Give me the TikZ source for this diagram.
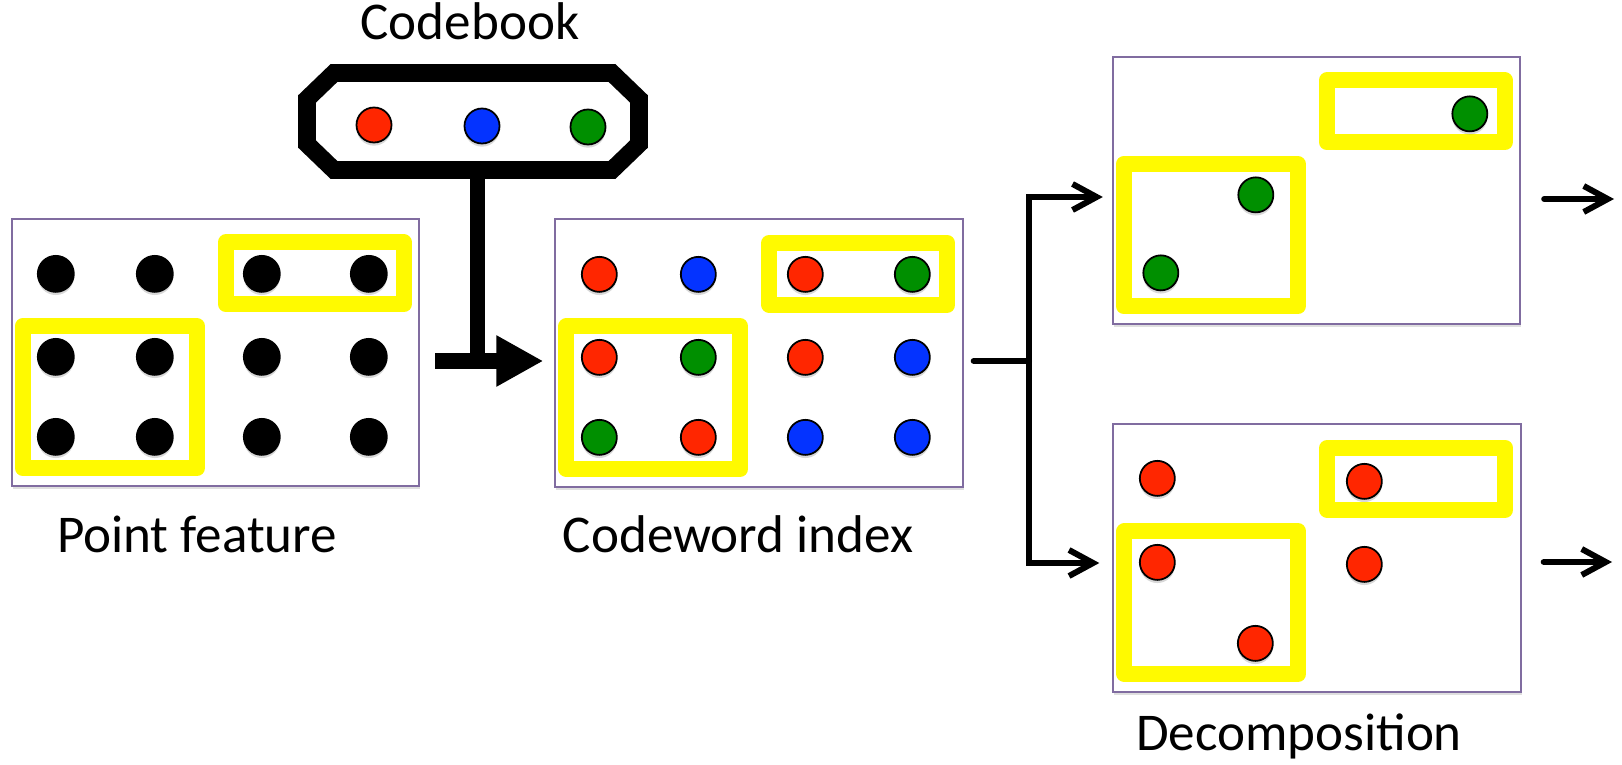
\documentclass[tikz,border=0pt]{standalone}
\usepackage{fontspec}
\setmainfont{Carlito}
\usetikzlibrary{arrows.meta,shadows}
\definecolor{cbred}{RGB}{255,38,0}
\definecolor{cbblue}{RGB}{4,51,255}
\definecolor{cbgreen}{RGB}{0,143,0}
\definecolor{hlyellow}{RGB}{255,250,0}
\definecolor{framecol}{RGB}{128,108,160}
\tikzset{%
  panel/.style={draw=framecol,line width=.6pt,fill=white,inner sep=0pt,
    minimum width=4.07cm,minimum height=2.67cm,
    drop shadow={shadow xshift=.3pt,shadow yshift=-.9pt,opacity=.25}},
  dot/.style={circle,draw=black,line width=.5pt,inner sep=0pt,minimum size=3.5mm,
    drop shadow={shadow xshift=0pt,shadow yshift=-.9pt,opacity=.3}},
  blackdot/.style={dot,fill=black,minimum size=3.6mm},
  hlbox/.style={draw=hlyellow,line width=4.5pt,line join=round},
  caption/.style={anchor=base,font=\fontsize{15.1pt}{18pt}\selectfont},
  codebook/.style={line width=5pt},
  stem/.style={line width=4.3pt},
  feed/.style={line width=4.55pt,-{Triangle[length=4.7mm,width=4.8mm]}},
  wire/.style={line width=1.7pt,line cap=round},
  wirearrow/.style={wire,-{Straight Barb[length=2.4mm,width=2.6mm]}}
}

\begin{document}
\begin{tikzpicture}[x=.01cm,y=-.01cm]
  \useasboundingbox (0,0) rectangle (1622,764);

  % codebook
  \draw[codebook] (334,73) -- (612,73) -- (639,99) -- (639,144) -- (612,170)
    -- (334,170) -- (307,144) -- (307,99) -- cycle;
  \node[dot,fill=cbred] (cb1) at (374,125) {};
  \node[dot,fill=cbblue] (cb2) at (482,126) {};
  \node[dot,fill=cbgreen] (cb3) at (588,127) {};
  \coordinate (cbout) at (477.5,170);
  \node[caption] (cbtext) at (470,40) {Codebook};

  % panels
  \node[panel] (pf) at (215.5,352.5) {};
  \node[panel] (cw) at (759,353) {};
  \node[panel] (dc1) at (1316.5,190.5) {};
  \node[panel] (dc2) at (1317,558) {};

  \foreach \p in {pf,cw,dc1,dc2} {
    \draw[hlbox] ([shift={(215,24.5)}]\p.north west) rectangle ([shift={(393,86.5)}]\p.north west);
    \draw[hlbox] ([shift={(12,108)}]\p.north west) rectangle ([shift={(186,250.5)}]\p.north west);
  }

  % points
  \foreach \y [count=\r] in {56,139,219}
    \foreach \x [count=\c] in {45,144,251,358}
      \node[blackdot] (pf-\r-\c) at ([shift={(\x,\y)}]pf.north west) {};

  \foreach \x/\y/\col [count=\i] in {45/56/cbred,144/56/cbblue,251/56/cbred,358/56/cbgreen,
      45/139/cbred,144/139/cbgreen,251/139/cbred,358/139/cbblue,
      45/219/cbgreen,144/219/cbred,251/219/cbblue,358/219/cbblue}
    \node[dot,fill=\col] (cw-\i) at ([shift={(\x,\y)}]cw.north west) {};

  \foreach \x/\y [count=\i] in {358/58,144/139,49/217}
    \node[dot,fill=cbgreen] (dc1-\i) at ([shift={(\x,\y)}]dc1.north west) {};

  \foreach \x/\y [count=\i] in {45/55,252/58,45/139,252/141,143/220}
    \node[dot,fill=cbred] (dc2-\i) at ([shift={(\x,\y)}]dc2.north west) {};

  % arrows
  \coordinate (join) at (477.5,361);
  \coordinate (fork) at (1029,361);
  \coordinate (out1) at (1614,199);
  \coordinate (out2) at (1612,562);
  \draw[stem] (cbout) -- (join);
  \draw[feed,shorten <=1.5mm,shorten >=1.1mm] (pf.east |- join) -- (cw.west |- join);
  \draw[wire,shorten <=1mm] (cw.east |- fork) -- (fork);
  \draw[wirearrow,shorten >=.9mm] (fork) |- (dc1.west |- 0,197);
  \draw[wirearrow,shorten >=1.3mm] (fork) |- (dc2.west |- 0,563);
  \draw[wirearrow,shorten <=2.3mm] (dc1.east |- out1) -- (out1);
  \draw[wirearrow,shorten <=2.2mm] (dc2.east |- out2) -- (out2);

  \node[caption] (pftext) at (197,552) {Point feature};
  \node[caption] (cwtext) at (738,552) {Codeword index};
  \node[caption] (dctext) at (1299,750) {Decomposition};
\end{tikzpicture}
\end{document}
